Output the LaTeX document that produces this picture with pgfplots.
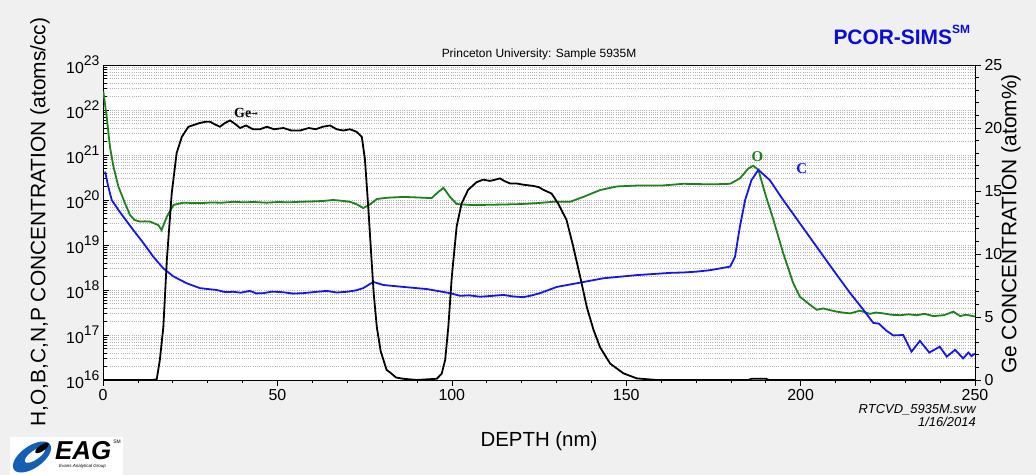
\documentclass[border=0pt]{standalone}
\usepackage{pgfplots}
\pgfplotsset{compat=1.18}
\usepackage{fontspec}
\setmainfont{Liberation Sans}
\newfontfamily\serifb{Liberation Serif}
\newfontfamily\dejavu{DejaVu Serif}

\definecolor{bgc}{RGB}{240,240,240}
\definecolor{ocol}{RGB}{30,128,30}
\definecolor{ccol}{RGB}{22,22,235}
\definecolor{pcor}{RGB}{12,12,215}
\definecolor{eagblue}{RGB}{20,95,180}
\definecolor{gridc}{RGB}{180,180,180}

% power-of-ten tick labels set in the text font
\newcommand{\pw}[1]{10\raisebox{0.48em}{\fontsize{14}{14}\selectfont #1}}

% oxygen profile (atoms/cc)
\pgfplotstableread{
d v
0.1 2.57e22
1.05 7.08e21
2.0 1.51e21
3.0 5.50e20
4.4 2.00e20
6.3 8.51e19
7.7 4.68e19
9.0 3.60e19
10.6 3.31e19
12.0 3.35e19
13.5 3.31e19
15.9 2.75e19
16.8 2.14e19
18.3 4.27e19
20.2 7.76e19
23.0 8.71e19
25.5 8.60e19
27.8 8.51e19
31.0 8.80e19
34.0 8.70e19
37.4 9.12e19
40.0 8.90e19
43.5 9.00e19
46.9 8.71e19
50.0 9.00e19
53.5 8.90e19
56.5 9.12e19
60.0 9.30e19
63.0 9.50e19
66.0 1.00e20
68.5 9.60e19
70.8 9.12e19
72.8 8.00e19
74.6 6.61e19
76.5 7.94e19
78.5 1.05e20
81.3 1.12e20
86.1 1.17e20
90.0 1.14e20
94.2 1.10e20
95.7 1.41e20
97.6 1.86e20
99.5 1.17e20
101.4 8.13e19
105.2 7.76e19
110.0 7.80e19
114.8 7.94e19
119.5 8.10e19
124.3 8.51e19
129.1 9.12e19
133.9 9.12e19
137.7 1.17e20
142.5 1.66e20
147.3 2.00e20
153.0 2.09e20
160.0 2.09e20
166.4 2.29e20
171.0 2.25e20
175.9 2.24e20
179.8 2.29e20
182.6 3.02e20
185.0 5.01e20
186.4 5.75e20
187.9 4.68e20
189.8 1.41e20
192.2 3.63e19
195.0 6.61e18
197.9 1.41e18
199.8 7.08e17
202.7 4.68e17
204.6 3.63e17
206.5 3.89e17
208.5 3.55e17
210.3 3.31e17
212.0 3.16e17
214.2 3.02e17
217.0 3.47e17
219.9 2.95e17
221.5 3.16e17
223.7 3.02e17
226.0 2.82e17
228.5 2.75e17
231.0 2.88e17
233.3 2.75e17
235.5 2.95e17
238.1 2.63e17
241.0 2.75e17
242.5 3.02e17
243.8 3.31e17
245.7 2.63e17
247.5 2.82e17
250.0 2.57e17
}\otab

% carbon profile (atoms/cc)
\pgfplotstableread{
d v
0.6 4.27e20
1.5 2.00e20
2.5 1.00e20
4.4 6.03e19
5.8 4.27e19
8.7 2.14e19
11.6 1.10e19
14.4 5.50e18
17.3 3.02e18
20.2 2.00e18
24.0 1.41e18
27.8 1.10e18
30.0 1.05e18
32.6 1.00e18
35.0 9.00e17
37.4 9.12e17
39.5 8.70e17
42.1 9.55e17
44.0 8.40e17
46.0 8.51e17
48.5 9.20e17
51.7 8.91e17
54.5 8.30e17
57.4 8.51e17
60.5 9.00e17
64.1 9.55e17
67.0 8.80e17
69.9 9.12e17
72.5 9.80e17
74.6 1.10e18
77.5 1.51e18
80.4 1.29e18
86.1 1.17e18
92.8 1.05e18
99.5 8.51e17
102.4 7.41e17
105.0 7.60e17
108.1 7.08e17
111.5 7.40e17
114.8 7.76e17
117.5 7.20e17
120.5 6.92e17
123.0 7.60e17
125.3 8.51e17
130.1 1.17e18
135.8 1.41e18
143.4 1.82e18
153.0 2.14e18
162.6 2.40e18
166.4 2.45e18
170.0 2.55e18
174.0 2.75e18
179.8 3.31e18
181.2 5.50e18
182.6 2.57e19
184.1 1.00e20
185.9 2.75e20
187.9 4.68e20
191.2 2.75e20
195.0 1.00e20
199.8 3.02e19
204.6 9.12e18
209.4 2.75e18
214.2 8.51e17
218.0 3.63e17
220.8 1.86e17
222.5 1.78e17
224.5 1.26e17
226.6 9.77e16
229.4 1.00e17
231.8 4.27e16
234.2 7.41e16
236.9 4.07e16
239.9 5.50e16
241.9 3.31e16
244.3 4.68e16
246.6 3.02e16
248.1 4.07e16
249.0 3.39e16
250.0 3.89e16
}\ctab

% germanium profile (atom %)
\pgfplotstableread{
d v
0 0
14.0 0
15.4 0.05
16.3 1.6
17.3 4.2
18.3 9.5
19.7 14.8
21.1 18.0
22.6 19.3
24.5 20.1
27.8 20.4
29.5 20.5
30.7 20.5
32.0 20.3
33.5 20.1
35.0 20.4
36.4 20.6
38.0 20.3
39.3 20.0
41.0 20.2
43.0 19.9
45.0 19.9
47.0 20.1
49.0 19.9
51.7 20.0
54.0 19.8
56.5 19.8
59.0 20.0
61.0 19.9
63.0 20.1
65.1 20.2
67.0 19.9
68.9 19.8
70.8 19.9
72.7 19.7
74.2 19.3
75.1 17.5
76.1 13.5
77.0 9.5
77.6 6.9
78.5 4.2
79.6 2.3
81.3 0.8
82.3 0.6
84.0 0.2
86.0 0.1
90.0 0
95.7 0.1
97.1 0.5
98.1 1.6
99.0 4.2
100.0 8.2
101.4 12.2
102.8 14.0
104.7 15.1
107.1 15.7
109.0 15.9
110.9 15.8
112.5 15.9
113.8 16.0
115.0 15.8
116.7 15.6
118.5 15.6
120.5 15.5
123.4 15.4
125.0 15.3
126.2 15.1
128.6 14.8
130.5 14.0
132.9 12.7
134.8 10.6
136.8 8.2
138.7 5.8
140.6 4.0
142.5 2.6
145.4 1.3
149.2 0.53
153.0 0.13
158.7 0
185.0 0
186.0 0.1
190.0 0.1
191.0 0
250.0 0
}\getab

\begin{document}
\begin{tikzpicture}
\path[use as bounding box, fill=bgc] (0,0) rectangle (1036bp,475bp);

\pgfplotsset{
  every axis/.append style={
    scale only axis, width=872bp, height=315bp,
    at={(103bp,95bp)}, anchor=south west,
    xmin=0, xmax=250,
    tick label style={font=\fontsize{16}{16}\selectfont},
    /pgf/number format/assume math mode=true,
    major tick length=6bp, minor tick length=3.5bp,
    every tick/.style={black, line width=0.6bp},
    axis line style={line width=0.8bp},
  }
}

\begin{axis}[
  ymode=log, ymin=1e16, ymax=1e23,
  ytickten={16,...,23},
  yticklabels={\pw{16},\pw{17},\pw{18},\pw{19},\pw{20},\pw{21},\pw{22},\pw{23}},
  ytick align=inside, ytick pos=left,
  xtick={0,50,...,250}, minor x tick num=4,
  xtick align=outside, xtick pos=bottom,
  ymajorgrids, yminorgrids,
  major grid style={gridc, line width=0.6bp, dash pattern=on 0.9bp off 1.3bp},
  minor grid style={gridc, line width=0.6bp, dash pattern=on 0.9bp off 1.3bp},
  axis background/.style={fill=white},
  clip=true,
]
\addplot[ocol, line width=1.8bp] table[x=d, y=v] {\otab};
\addplot[ccol, line width=1.8bp] table[x=d, y=v] {\ctab};
\node[font=\serifb\bfseries\fontsize{14}{14}\selectfont, text=black, anchor=center]
  at (axis cs:41,8.5e21) {Ge\raisebox{0.12em}{\fontsize{8}{8}\selectfont\dejavu →}};
\node[font=\serifb\bfseries\fontsize{15}{15}\selectfont, text=ocol]
  at (axis cs:187.6,9.1e20) {O};
\node[font=\serifb\bfseries\fontsize{15}{15}\selectfont, text=ccol]
  at (axis cs:200.3,5.0e20) {C};
\end{axis}

\begin{axis}[
  axis x line=none, axis y line*=right,
  ymin=0, ymax=25,
  ytick={0,5,...,25}, minor y tick num=4,
  ytick align=outside,
]
\addplot[black, line width=1.8bp] table[x=d, y=v] {\getab};
\end{axis}

% titles and axis labels
\node[font=\fontsize{12}{12}\selectfont] at (539bp,421bp) {Princeton University: Sample 5935M};
\node[font=\bfseries\fontsize{21}{21}\selectfont, text=pcor, anchor=base west] at (830bp,430bp)
  {PCOR-SIMS\raisebox{0.55em}{\fontsize{12}{12}\selectfont SM}};
\node[font=\fontsize{21}{21}\selectfont, rotate=90] at (40bp,253bp)
  {H,O,B,C,N,P CONCENTRATION (atoms/cc)};
\node[font=\fontsize{21}{21}\selectfont, rotate=90] at (1011bp,251bp)
  {Ge CONCENTRATION (atom\%)};
\node[font=\fontsize{20.5}{20.5}\selectfont] at (539bp,34bp) {DEPTH (nm)};
\node[font=\itshape\fontsize{13}{13}\selectfont, anchor=east, inner sep=1bp] at (977bp,65bp) {RTCVD\_5935M.svw};
\node[font=\itshape\fontsize{13}{13}\selectfont, anchor=east, inner sep=1bp] at (977bp,53.5bp) {1/16/2014};

% EAG logo
\fill[white] (10bp,0bp) rectangle (123bp,38bp);
\fill[eagblue, rotate around={35:(32bp,18bp)}] (32bp,18bp) ellipse [x radius=22bp, y radius=11bp];
\fill[white, rotate around={35:(35bp,20bp)}] (35bp,20bp) ellipse [x radius=12bp, y radius=4.5bp];
\fill[black, rotate around={35:(42bp,27bp)}] (42bp,27bp) ellipse [x radius=8bp, y radius=3bp];
\node[font=\bfseries\itshape\fontsize{26}{26}\selectfont, anchor=west, inner sep=0] at (55bp,24bp) {EAG};
\node[font=\fontsize{5}{5}\selectfont, anchor=east, inner sep=0] at (121bp,33bp) {SM};
\node[font=\itshape\fontsize{4.5}{4.5}\selectfont, anchor=west, inner sep=0] at (59bp,9bp) {Evans Analytical Group};
\end{tikzpicture}
\end{document}
